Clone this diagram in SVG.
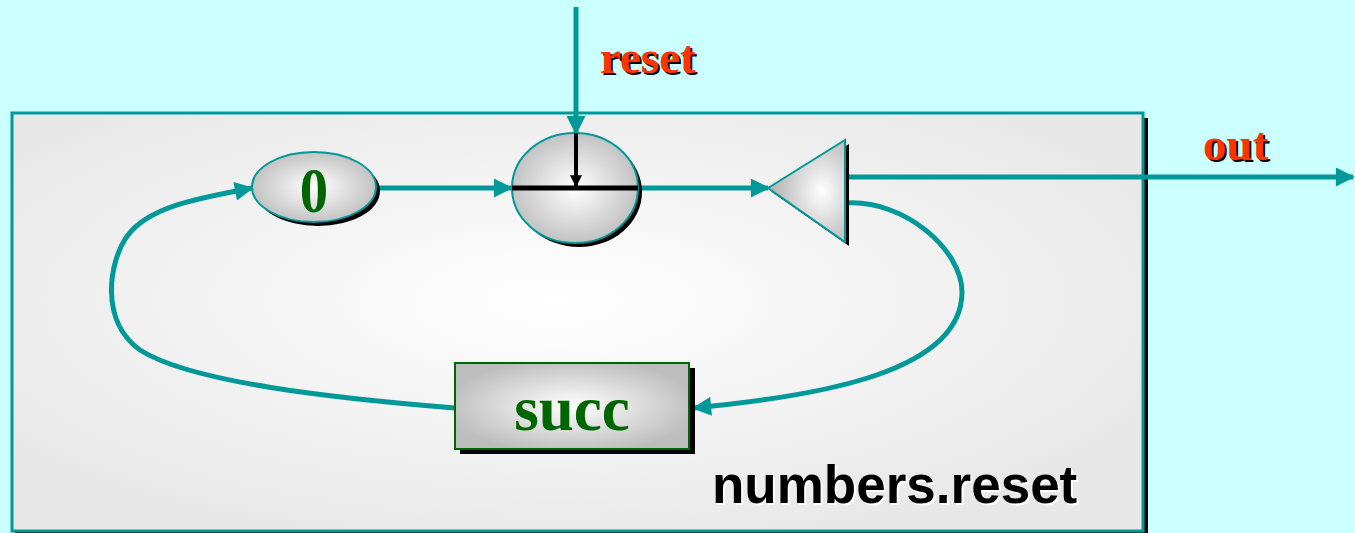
<svg xmlns="http://www.w3.org/2000/svg" width="1355" height="533" viewBox="0 0 1355 533">
  <style>
    .wire { fill: none; stroke: #009999; stroke-width: 5; }
    .shadow { fill: #000; }
    .lbl { font-family: "Liberation Serif", "Times New Roman", serif; font-weight: bold; }
    .port { font-size: 47px; fill: #ff3300; }
    .portsh { font-size: 47px; fill: #000; }
    .node { font-size: 63px; fill: #006600; }
  </style>
  <defs>
    <radialGradient id="panel" cx="0.48" cy="0.45" r="0.6">
      <stop offset="0" stop-color="#ffffff"/>
      <stop offset="1" stop-color="#e8e8e8"/>
    </radialGradient>
    <radialGradient id="shade" cx="0.5" cy="0.5" r="0.55">
      <stop offset="0" stop-color="#ffffff"/>
      <stop offset="1" stop-color="#bdbdbd"/>
    </radialGradient>
    <radialGradient id="shadeTri" cx="0.7" cy="0.5" r="0.6">
      <stop offset="0" stop-color="#ffffff"/>
      <stop offset="1" stop-color="#b8b8b8"/>
    </radialGradient>
    <marker id="arr" viewBox="0 0 10 10" refX="9" refY="5" markerWidth="5.2" markerHeight="3.8" markerUnits="strokeWidth" orient="auto">
      <path d="M0 0 L10 5 L0 10 z" fill="#009999"/>
    </marker>
    <marker id="arrBlk" viewBox="0 0 10 10" refX="9" refY="5" markerWidth="3.4" markerHeight="3" markerUnits="strokeWidth" orient="auto">
      <path d="M0 0 L10 5 L0 10 z" fill="#000"/>
    </marker>
  </defs>

  <!-- background -->
  <rect x="0" y="0" width="1355" height="533" fill="#ccffff"/>

  <!-- enclosing network panel -->
  <g id="panel-numbers-reset">
    <rect x="15" y="118" width="1133" height="417" fill="#000"/>
    <rect x="12" y="113" width="1131" height="418" fill="url(#panel)" stroke="#009999" stroke-width="3"/>
    <text x="714" y="505" font-family="Liberation Sans, Arial, sans-serif" font-weight="bold" font-size="53" fill="#ffffff">numbers.reset</text>
    <text x="712" y="503" font-family="Liberation Sans, Arial, sans-serif" font-weight="bold" font-size="53" fill="#000">numbers.reset</text>
  </g>

  <!-- connectors -->
  <g id="connectors">
    <line class="wire" x1="576" y1="7" x2="576" y2="133" marker-end="url(#arr)"/>
    <line class="wire" x1="377" y1="188" x2="511" y2="188" marker-end="url(#arr)"/>
    <line class="wire" x1="639" y1="188" x2="768" y2="188" marker-end="url(#arr)"/>
    <line class="wire" x1="847" y1="177" x2="1353" y2="177" marker-end="url(#arr)"/>
    <path class="wire" d="M847 203 C905 200 962 250 962 292 C962 372 820 396 694 408" marker-end="url(#arr)"/>
    <path class="wire" d="M455 408 C330 398 190 382 140 350 C100 322 108 262 128 235 C150 206 200 198 252 188" marker-end="url(#arr)"/>
  </g>

  <!-- constant 0 -->
  <g id="node-zero">
    <ellipse class="shadow" cx="318" cy="191" rx="62" ry="35"/>
    <ellipse cx="314" cy="187" rx="62" ry="35" fill="url(#shade)" stroke="#009999" stroke-width="2"/>
    <text class="lbl node" x="314" y="212" text-anchor="middle" font-size="66" transform="translate(314 0) scale(0.9 1) translate(-314 0)">0</text>
  </g>

  <!-- reset switch -->
  <g id="node-switch">
    <ellipse class="shadow" cx="579" cy="192" rx="63" ry="55"/>
    <ellipse cx="575" cy="188" rx="63" ry="55" fill="url(#shade)" stroke="#009999" stroke-width="2"/>
    <line x1="512" y1="188" x2="638" y2="188" stroke="#000" stroke-width="5"/>
    <line x1="576" y1="133" x2="576" y2="186" stroke="#000" stroke-width="4" marker-end="url(#arrBlk)"/>
  </g>

  <!-- delta (split) -->
  <g id="node-delta">
    <polygon class="shadow" points="772,192 849,144 849,246"/>
    <polygon points="768,188 845,140 845,242" fill="url(#shadeTri)" stroke="#009999" stroke-width="2"/>
  </g>

  <!-- successor -->
  <g id="node-succ">
    <rect class="shadow" x="460" y="368" width="235" height="86"/>
    <rect x="455" y="363" width="234" height="86" fill="url(#shade)" stroke="#006600" stroke-width="2"/>
    <text class="lbl node" x="572" y="430" text-anchor="middle">succ</text>
  </g>

  <!-- port labels -->
  <g id="label-reset">
    <text class="lbl portsh" x="602" y="75">reset</text>
    <text class="lbl port" x="600" y="73">reset</text>
  </g>
  <g id="label-out">
    <text class="lbl portsh" x="1205" y="162">out</text>
    <text class="lbl port" x="1203" y="160">out</text>
  </g>
</svg>
